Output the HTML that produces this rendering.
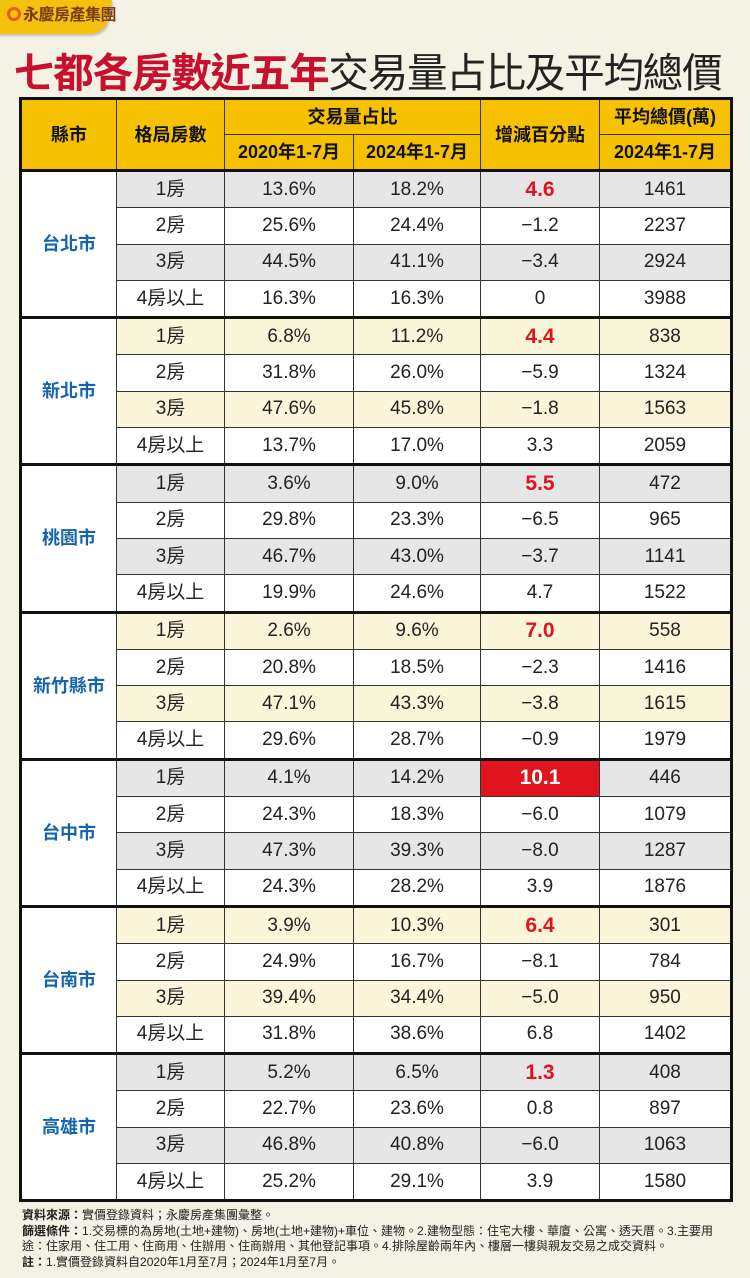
<!DOCTYPE html>
<html><head><meta charset="utf-8"><style>
body{margin:0;width:750px;height:1278px;background:#f3f2e4;position:relative;overflow:hidden;font-family:"Liberation Sans","Noto Sans CJK TC",sans-serif}
.logo{position:absolute;left:0;top:0;width:112px;height:34px;background:#f5c10f;border-radius:0 0 14px 0;transform:skewX(-12deg);transform-origin:0 0;box-shadow:2px 2px 2px rgba(0,0,0,.2)}
.logot{position:absolute;left:7px;top:5px;font-size:16px;font-weight:bold;color:#7a3b10;letter-spacing:-0.5px;line-height:22px}
.logot span{display:inline-block;width:14px;height:14px;border:3px solid #e0631c;border-radius:50%;box-sizing:border-box;vertical-align:-1px;margin-right:2px}
h1{position:absolute;left:14px;top:40px;margin:0;font-size:40.5px;font-weight:bold;color:#c8102e;white-space:nowrap;letter-spacing:-1.2px}
h1 span{font-weight:normal;color:#222}
table{position:absolute;left:19px;top:97px;width:711px;border-collapse:collapse;border:3px solid #111;table-layout:fixed}
td,th{border:1px solid #333;text-align:center;vertical-align:middle;padding:0;font-size:19px;color:#222;line-height:20px}
th{background:#f6c100;font-weight:bold;font-size:18px;height:34px;color:#111}
td{height:35.3px}
tr.g td{background:#e6e6e6}
tr.y td{background:#fbf6d9}
tr.w td{background:#fff}
tr td.c{background:#fff;color:#1565ad;font-weight:bold;font-size:18px}
tr.t td{border-top:3px solid #111}
td.r{color:#e0141e;font-weight:bold;font-size:21px}
tr td.rb{background:#e0141e;color:#fff;font-weight:bold;font-size:21px}
.note{position:absolute;left:22px;top:1208px;font-size:12px;line-height:15.5px;color:#222;width:712px}
.note b{font-weight:bold}
</style></head><body>
<div class="logo"></div><div class="logot"><span></span>永慶房產集團</div>
<h1>七都各房數近五年<span>交易量占比及平均總價</span></h1>
<table>
<colgroup><col style="width:96px"><col style="width:108px"><col style="width:129px"><col style="width:127px"><col style="width:119px"><col style="width:132px"></colgroup>
<tr><th rowspan="2">縣市</th><th rowspan="2">格局房數</th><th colspan="2">交易量占比</th><th rowspan="2">增減百分點</th><th>平均總價(萬)</th></tr>
<tr><th>2020年1-7月</th><th>2024年1-7月</th><th>2024年1-7月</th></tr>

<tr class="g t"><td class="c" rowspan="4">台北市</td><td>1房</td><td>13.6%</td><td>18.2%</td><td class="r">4.6</td><td>1461</td></tr>
<tr class="w"><td>2房</td><td>25.6%</td><td>24.4%</td><td>−1.2</td><td>2237</td></tr>
<tr class="g"><td>3房</td><td>44.5%</td><td>41.1%</td><td>−3.4</td><td>2924</td></tr>
<tr class="w"><td>4房以上</td><td>16.3%</td><td>16.3%</td><td>0</td><td>3988</td></tr>

<tr class="y t"><td class="c" rowspan="4">新北市</td><td>1房</td><td>6.8%</td><td>11.2%</td><td class="r">4.4</td><td>838</td></tr>
<tr class="w"><td>2房</td><td>31.8%</td><td>26.0%</td><td>−5.9</td><td>1324</td></tr>
<tr class="y"><td>3房</td><td>47.6%</td><td>45.8%</td><td>−1.8</td><td>1563</td></tr>
<tr class="w"><td>4房以上</td><td>13.7%</td><td>17.0%</td><td>3.3</td><td>2059</td></tr>

<tr class="g t"><td class="c" rowspan="4">桃園市</td><td>1房</td><td>3.6%</td><td>9.0%</td><td class="r">5.5</td><td>472</td></tr>
<tr class="w"><td>2房</td><td>29.8%</td><td>23.3%</td><td>−6.5</td><td>965</td></tr>
<tr class="g"><td>3房</td><td>46.7%</td><td>43.0%</td><td>−3.7</td><td>1141</td></tr>
<tr class="w"><td>4房以上</td><td>19.9%</td><td>24.6%</td><td>4.7</td><td>1522</td></tr>

<tr class="y t"><td class="c" rowspan="4">新竹縣市</td><td>1房</td><td>2.6%</td><td>9.6%</td><td class="r">7.0</td><td>558</td></tr>
<tr class="w"><td>2房</td><td>20.8%</td><td>18.5%</td><td>−2.3</td><td>1416</td></tr>
<tr class="y"><td>3房</td><td>47.1%</td><td>43.3%</td><td>−3.8</td><td>1615</td></tr>
<tr class="w"><td>4房以上</td><td>29.6%</td><td>28.7%</td><td>−0.9</td><td>1979</td></tr>

<tr class="g t"><td class="c" rowspan="4">台中市</td><td>1房</td><td>4.1%</td><td>14.2%</td><td class="rb">10.1</td><td>446</td></tr>
<tr class="w"><td>2房</td><td>24.3%</td><td>18.3%</td><td>−6.0</td><td>1079</td></tr>
<tr class="g"><td>3房</td><td>47.3%</td><td>39.3%</td><td>−8.0</td><td>1287</td></tr>
<tr class="w"><td>4房以上</td><td>24.3%</td><td>28.2%</td><td>3.9</td><td>1876</td></tr>

<tr class="y t"><td class="c" rowspan="4">台南市</td><td>1房</td><td>3.9%</td><td>10.3%</td><td class="r">6.4</td><td>301</td></tr>
<tr class="w"><td>2房</td><td>24.9%</td><td>16.7%</td><td>−8.1</td><td>784</td></tr>
<tr class="y"><td>3房</td><td>39.4%</td><td>34.4%</td><td>−5.0</td><td>950</td></tr>
<tr class="w"><td>4房以上</td><td>31.8%</td><td>38.6%</td><td>6.8</td><td>1402</td></tr>

<tr class="g t"><td class="c" rowspan="4">高雄市</td><td>1房</td><td>5.2%</td><td>6.5%</td><td class="r">1.3</td><td>408</td></tr>
<tr class="w"><td>2房</td><td>22.7%</td><td>23.6%</td><td>0.8</td><td>897</td></tr>
<tr class="g"><td>3房</td><td>46.8%</td><td>40.8%</td><td>−6.0</td><td>1063</td></tr>
<tr class="w"><td>4房以上</td><td>25.2%</td><td>29.1%</td><td>3.9</td><td>1580</td></tr>
</table>
<div class="note"><b>資料來源：</b>實價登錄資料；永慶房產集團彙整。<br><b>篩選條件：</b>1.交易標的為房地(土地+建物)、房地(土地+建物)+車位、建物。2.建物型態：住宅大樓、華廈、公寓、透天厝。3.主要用途：住家用、住工用、住商用、住辦用、住商辦用、其他登記事項。4.排除屋齡兩年內、樓層一樓與親友交易之成交資料。<br><b>註：</b>1.實價登錄資料自2020年1月至7月；2024年1月至7月。</div>
</body></html>
